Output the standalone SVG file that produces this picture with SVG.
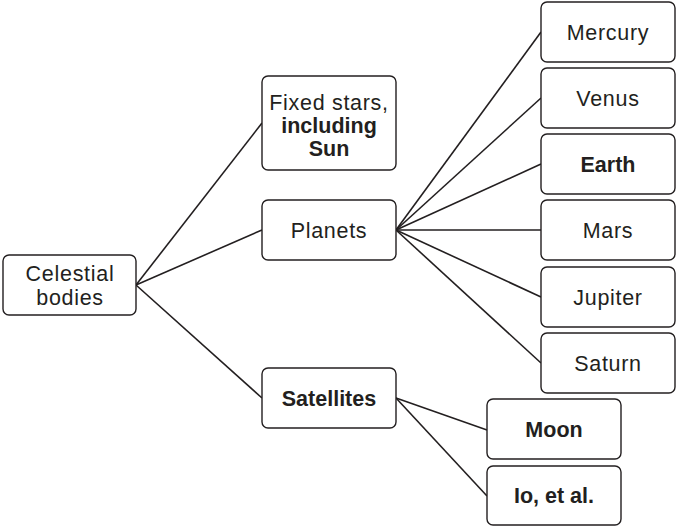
<svg xmlns="http://www.w3.org/2000/svg" width="677" height="528" viewBox="0 0 677 528">
  <style>
    .box { fill: #ffffff; stroke: #231f20; stroke-width: 1.4; }
    .link { stroke: #231f20; stroke-width: 1.6; fill: none; }
    text { font-family: "Liberation Sans", Arial, sans-serif; font-size: 21.5px; fill: #231f20; text-anchor: middle; letter-spacing: 0.7px; }
    .b { font-weight: bold; letter-spacing: 0; }
  </style>
  <rect width="677" height="528" fill="#ffffff"/>

  <!-- connectors -->
  <g id="connectors">
    <line class="link" x1="136" y1="285" x2="262" y2="123"/>
    <line class="link" x1="136" y1="285" x2="262" y2="230"/>
    <line class="link" x1="136" y1="285" x2="262" y2="398"/>
    <line class="link" x1="396" y1="230" x2="541" y2="32"/>
    <line class="link" x1="396" y1="230" x2="541" y2="98"/>
    <line class="link" x1="396" y1="230" x2="541" y2="164"/>
    <line class="link" x1="396" y1="230" x2="541" y2="230"/>
    <line class="link" x1="396" y1="230" x2="541" y2="297"/>
    <line class="link" x1="396" y1="230" x2="541" y2="363"/>
    <line class="link" x1="396" y1="398" x2="487" y2="430"/>
    <line class="link" x1="396" y1="398" x2="487" y2="496"/>
  </g>

  <!-- root -->
  <g id="celestial">
    <rect class="box" x="3" y="255" width="133" height="60" rx="6"/>
    <text x="70" y="281">Celestial</text>
    <text x="70" y="305">bodies</text>
  </g>

  <!-- second level -->
  <g id="fixed-stars">
    <rect class="box" x="262" y="76" width="134" height="94" rx="6"/>
    <text x="329" y="110">Fixed stars,</text>
    <text x="329" y="133" class="b">including</text>
    <text x="329" y="156" class="b">Sun</text>
  </g>
  <g id="planets">
    <rect class="box" x="262" y="200" width="134" height="60" rx="6"/>
    <text x="329" y="237.5">Planets</text>
  </g>
  <g id="satellites">
    <rect class="box" x="262" y="368" width="134" height="60" rx="6"/>
    <text x="329" y="405.5" class="b">Satellites</text>
  </g>

  <!-- planets -->
  <g id="mercury">
    <rect class="box" x="541" y="2" width="134" height="60" rx="6"/>
    <text x="608" y="39.5">Mercury</text>
  </g>
  <g id="venus">
    <rect class="box" x="541" y="68" width="134" height="60" rx="6"/>
    <text x="608" y="105.5">Venus</text>
  </g>
  <g id="earth">
    <rect class="box" x="541" y="134" width="134" height="60" rx="6"/>
    <text x="608" y="171.5" class="b">Earth</text>
  </g>
  <g id="mars">
    <rect class="box" x="541" y="200" width="134" height="60" rx="6"/>
    <text x="608" y="237.5">Mars</text>
  </g>
  <g id="jupiter">
    <rect class="box" x="541" y="267" width="134" height="60" rx="6"/>
    <text x="608" y="304.5">Jupiter</text>
  </g>
  <g id="saturn">
    <rect class="box" x="541" y="333" width="134" height="60" rx="6"/>
    <text x="608" y="370.5">Saturn</text>
  </g>

  <!-- satellites -->
  <g id="moon">
    <rect class="box" x="487" y="399" width="134" height="60" rx="6"/>
    <text x="554" y="436.5" class="b">Moon</text>
  </g>
  <g id="io">
    <rect class="box" x="487" y="466" width="134" height="59" rx="6"/>
    <text x="554" y="503" class="b">Io, et al.</text>
  </g>
</svg>
